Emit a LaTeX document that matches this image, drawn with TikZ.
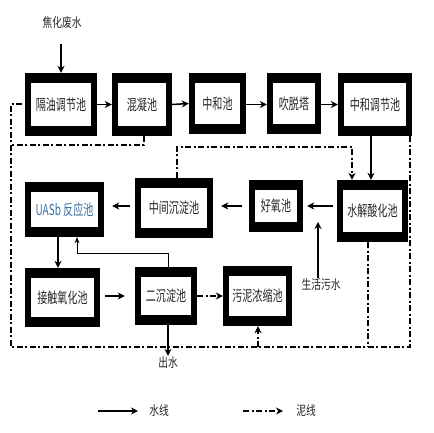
\documentclass[tikz,border=0pt]{standalone}
\usepackage{fontspec}
\usepackage{graphicx}
\setmainfont{Noto Sans CJK SC}
\usetikzlibrary{arrows.meta,calc}
\newcommand\pooltxt[1]{\scalebox{0.67}[1]{\fontsize{15}{16}\selectfont #1}}
\newcommand\lbltxt[1]{\scalebox{0.75}[1]{\fontsize{13}{14}\selectfont #1}}
\newcommand\mypool[6]{%
 \fill[black] (#2,#3) rectangle (#4,#5);
 \fill[white] ({#2+6},{#3+10}) rectangle ({#4-6},{#5-10});
 \node[pooltext, minimum width={#4-#2}, minimum height={#5-#3}] (#1) at ({(#2+#4)/2},{(#3+#5)/2}) {\pooltxt{#6}};}
\begin{document}
\begin{tikzpicture}[x=1pt,y=-1pt,
 pooltext/.style={inner sep=0pt, text=black!85},
 lbl/.style={inner sep=1pt, text=black!85},
 water/.style={line width=1.5pt,-{Stealth[length=7pt,width=7pt]}},
 sludge/.style={line width=1.6pt, dash pattern=on 6pt off 2.5pt on 2pt off 2.5pt},
 sludgearr/.style={sludge,-{Stealth[length=7pt,width=7pt]}},
 thinarr/.style={line width=0.8pt,-{Stealth[length=6pt,width=5pt]}}]
\useasboundingbox[fill=white] (0,0) rectangle (433,433);
% row 1
\mypool{A}{25}{73}{97}{136}{隔油调节池}
\mypool{B}{112}{73}{172}{136}{混凝池}
\mypool{C}{189}{73}{246}{134}{中和池}
\mypool{D}{267}{73}{321}{134}{吹脱塔}
\mypool{E}{338}{73}{412}{136}{中和调节池}
% row 2
\mypool{F}{25}{182}{104}{237}{\textcolor[HTML]{3A6EA5}{UASb 反应池}}
\mypool{G}{135}{178}{213}{238}{中间沉淀池}
\mypool{H}{249}{180}{303}{232}{好氧池}
\mypool{I}{337}{180}{408}{242}{水解酸化池}
% row 3
\mypool{J}{25}{268}{100}{327}{接触氧化池}
\mypool{K}{135}{267}{197}{325}{二沉淀池}
\mypool{L}{223}{266}{292}{326}{污泥浓缩池}
% texts
\node[lbl] (jh) at (62,23) {\lbltxt{焦化废水}};
\node[lbl] (sh) at (321,285) {\lbltxt{生活污水}};
\node[lbl] (out) at (168,363) {\lbltxt{出水}};
% coordinates
\coordinate (a1) at (61,0);
\coordinate (lt) at (11,104);
\coordinate (lb) at (11,347);
\coordinate (rb) at (410,347);
\coordinate (bm) at (144,145);
\coordinate (g1) at (177,147);
\coordinate (g2) at (352,147);
\coordinate (i1) at (368,347);
\coordinate (l1) at (258,347);
\coordinate (e1) at (371,0);
\coordinate (k1) at (168,253);
\coordinate (k2) at (77,253);
\coordinate (f1) at (58,0);
\coordinate (s1) at (318,222);
% water lines
\draw[water, shorten <=14pt] (jh.south -| a1) -- (A.north -| a1);
\draw[water] (A.east) -- (B.west);
\draw[water] (B.east) -- (C.west);
\draw[water] (C.east |- A.east) -- (D.west |- A.east);
\draw[water] (D.east |- A.east) -- (E.west |- A.east);
\draw[water] (E.south -| e1) -- (I.north -| e1);
\draw[water, shorten <=4pt, shorten >=4pt] (I.west |- H.east) -- (H.east);
\draw[water, shorten <=7pt, shorten >=8pt] (H.west) -- (G.east |- H.west);
\draw[water, shorten <=5pt, shorten >=8pt] (G.west |- H.west) -- (F.east |- H.west);
\draw[water] (F.south -| f1) -- (J.north -| f1);
\draw[water, shorten <=5pt, shorten >=10pt] (J.east |- K.west) -- (K.west);
\draw[water] (K.south -| k1) -- (out.north);
\draw[water] (sh.north -| s1) -- (s1);
\draw[thinarr] (K.north -| k1) -- (k1) -- (k2) -- (F.south -| k2);
% sludge lines
\draw[sludge] (E.south -| rb) -- (rb) -- (lb) -- (lt) -- (A.west |- lt);
\draw[sludge] (B.south -| bm) -- (bm) -- (bm -| lb);
\draw[sludgearr] (G.north -| g1) -- (g1) -- (g2) -- (I.north -| g2);
\draw[sludge] (I.south -| i1) -- (i1);
\draw[sludgearr] (l1) -- (L.south -| l1);
\draw[sludgearr] (K.east) -- (L.west |- K.east);
% legend
\coordinate (w1) at (98,411);
\coordinate (w2) at (138,411);
\coordinate (m1) at (243,411);
\coordinate (m2) at (283,411);
\node[lbl] (wl) at (159,411) {\lbltxt{水线}};
\node[lbl] (ml) at (306,411) {\lbltxt{泥线}};
\draw[water] (w1) -- (w2);
\draw[sludgearr] (m1) -- (m2);
\end{tikzpicture}
\end{document}
